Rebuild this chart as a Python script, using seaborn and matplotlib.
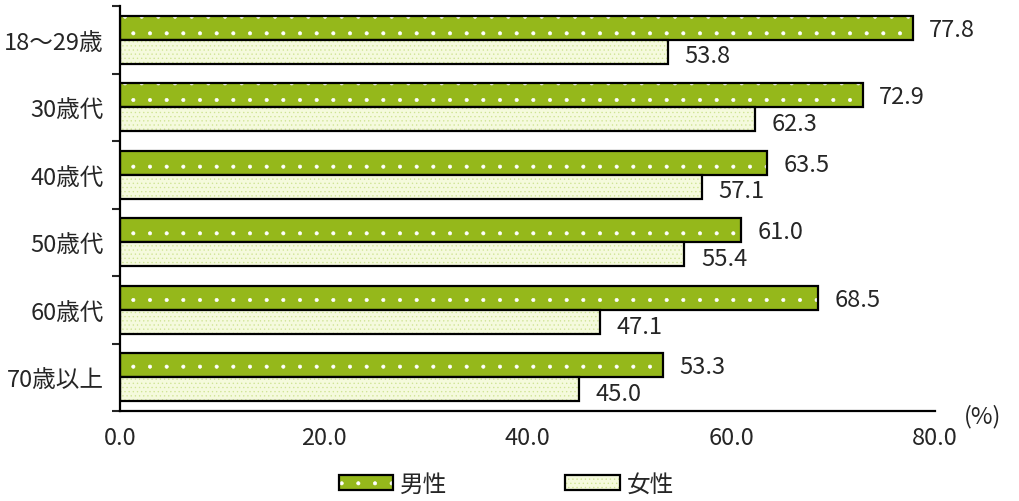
import numpy as np
import pandas as pd
import seaborn as sns
import matplotlib.pyplot as plt
from matplotlib.colors import to_rgba
from matplotlib.patches import Patch

# data
categories = ['18～29歳', '30歳代', '40歳代', '50歳代', '60歳代', '70歳以上']
series = ['男性', '女性']
male = [77.8, 72.9, 63.5, 61.0, 68.5, 53.3]
female = [53.8, 62.3, 57.1, 55.4, 47.1, 45.0]
xticks = [0, 20, 40, 60, 80]

fill_colors = {'男性': '#95b81b', '女性': '#f5fadd'}
dot_colors = {'男性': '#ffffff', '女性': '#cfe494'}
hatches = {'男性': '.', '女性': '....'}
FS = 17

df = pd.DataFrame({
    'age': categories * 2,
    'sex': [series[0]] * len(male) + [series[1]] * len(female),
    'rate': male + female,
})

sns.set_style('white')
plt.rcParams['font.family'] = ['Noto Sans CJK JP', 'DejaVu Sans']
plt.rcParams['hatch.linewidth'] = 0.45

fig, ax = plt.subplots(figsize=(10.19, 5.02), dpi=100)
fig.subplots_adjust(left=0.118, right=0.9175, top=0.986, bottom=0.179)

sns.barplot(data=df, y='age', x='rate', hue='sex', order=categories,
            hue_order=series, palette=fill_colors, width=0.71, orient='h',
            saturation=1, edgecolor='black', linewidth=1.6, legend=False, ax=ax)

# dotted fills: hatch colour differs from the black outline
for name, container in zip(series, ax.containers):
    for p in container:
        p.set_hatch(hatches[name])
        p._hatch_color = to_rgba(dot_colors[name])
    texts = ax.bar_label(container, fmt='%.1f', padding=12, fontsize=FS)
    for t in texts:
        t.xyann = (12, -3 if name == series[1] else -1)

ax.set_xlim(xticks[0], xticks[-1])
ax.set_xticks(xticks)
ax.set_xticklabels([f'{v:.1f}' for v in xticks], fontsize=FS)
ax.tick_params(axis='x', direction='in', length=6, width=1.5, pad=11)

ax.set_yticks(np.arange(-0.5, len(categories), 1), minor=True)
ax.tick_params(axis='y', which='major', length=0, pad=12, labelsize=FS)
ax.tick_params(axis='y', which='minor', direction='out', length=6, width=1.5, left=True)
ax.set_xlabel('')
ax.set_ylabel('')

sns.despine(ax=ax)
for side in ['left', 'bottom']:
    ax.spines[side].set_linewidth(1.6)
    ax.spines[side].set_color('black')

fig.text(0.946, 0.170, '(%)', fontsize=FS, ha='left', va='center')

handles = []
for name in series:
    h = Patch(facecolor=fill_colors[name], edgecolor='black', linewidth=1.6,
              hatch=hatches[name], label=name)
    h._hatch_color = to_rgba(dot_colors[name])
    handles.append(h)
fig.legend(handles=handles, loc='lower center', bbox_to_anchor=(0.497, -0.032),
           ncol=2, frameon=False, fontsize=FS, handlelength=2.3,
           handleheight=0.55, handletextpad=0.3, columnspacing=5.0)

fig.savefig('out.png', dpi=100)
